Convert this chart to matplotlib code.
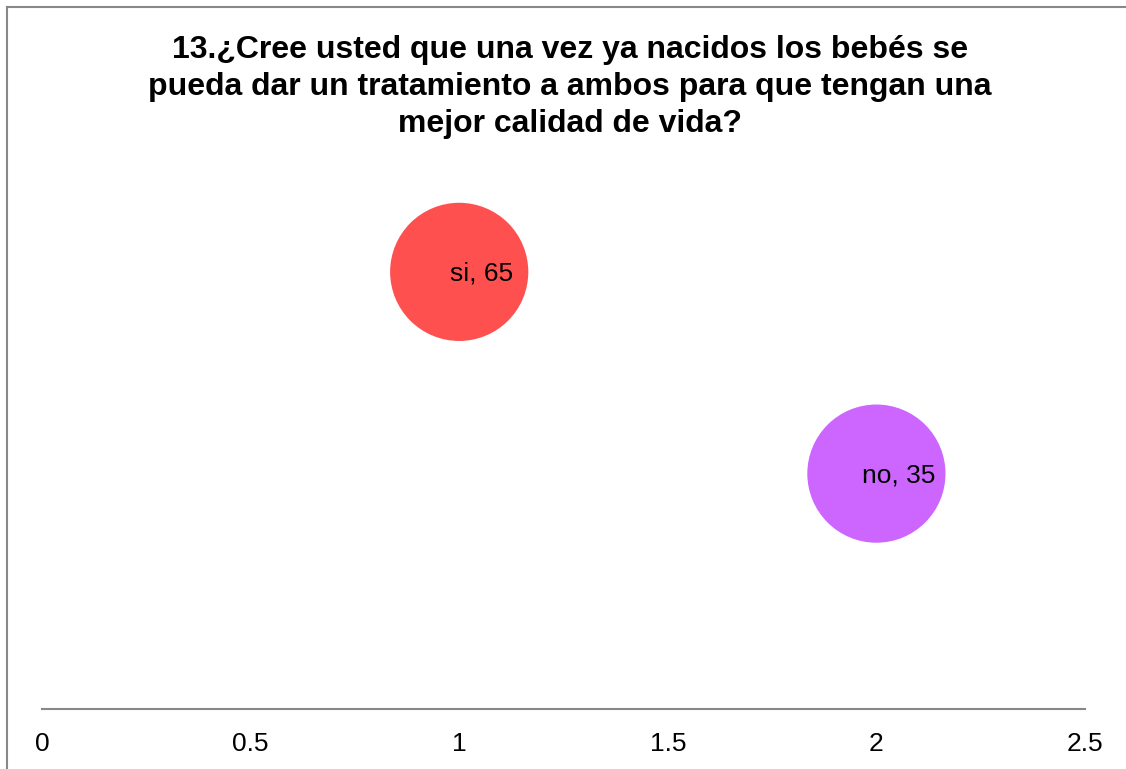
import matplotlib
matplotlib.use('Agg')
import matplotlib.pyplot as plt
from matplotlib.lines import Line2D

plt.rcParams['font.family'] = ['Liberation Sans', 'DejaVu Sans']

labels = ['si', 'no']
x_vals = [1, 2]
y_vals = [65, 35]
bubble = [1, 1]
colors = ['#FF5050', '#CC66FF']
title = '13.¿Cree usted que una vez ya nacidos los bebés se\npueda dar un tratamiento a ambos para que tengan una\nmejor calidad de vida?'

W, H = 1126, 769
fig = plt.figure(figsize=(W / 100, H / 100), dpi=100)
ax = fig.add_axes([42 / W, 60 / H, (1085 - 42) / W, (709 - 171) / H])

ax.scatter(x_vals, y_vals, s=[b * 9900 for b in bubble], c=colors, linewidths=0, zorder=3)
for xv, yv, lab in zip(x_vals, y_vals, labels):
    ax.annotate(f'{lab}, {yv}', (xv, yv), xytext=(16, -1), textcoords='offset points',
                ha='center', va='center', fontsize=19, color='black', zorder=4)

ax.set_xlim(0, 2.5)
ax.set_ylim(0, 80)
ax.set_xticks([0, 0.5, 1, 1.5, 2, 2.5])
ax.set_xticklabels(['0', '0.5', '1', '1.5', '2', '2.5'])
ax.set_yticks([])
ax.tick_params(axis='x', length=0, pad=16.5, labelsize=19)
for side in ['top', 'right', 'left']:
    ax.spines[side].set_visible(False)
ax.spines['bottom'].set_color('#888888')
ax.spines['bottom'].set_linewidth(1.5)

fig.text(570 / W, 1 - 35 / H, title, ha='center', va='top', fontsize=23,
         fontweight='bold', linespacing=1.3)

# outer chart border (left and top edges visible)
fig.add_artist(Line2D([6.5 / W, 6.5 / W], [0, 1 - 7 / H], color='#888888', lw=1.5,
                      transform=fig.transFigure))
fig.add_artist(Line2D([6.5 / W, 1], [1 - 7 / H, 1 - 7 / H], color='#888888', lw=1.5,
                      transform=fig.transFigure))

fig.savefig('out.png', dpi=100)
